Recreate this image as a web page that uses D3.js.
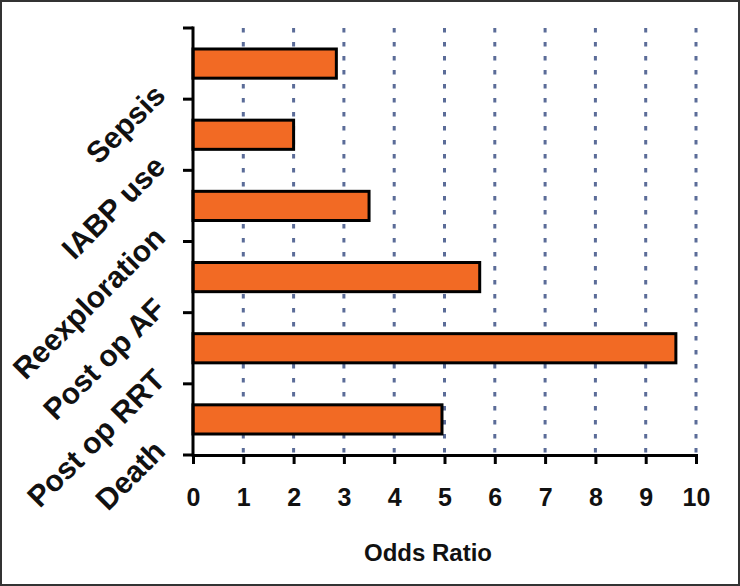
<!DOCTYPE html>
<html>
<head>
<meta charset="utf-8">
<script src="https://cdn.jsdelivr.net/npm/d3@7"></script>
<style>
  body { margin: 0; background: #fff; }
  svg { display: block; font-family: "Liberation Sans", Arial, sans-serif; }
</style>
</head>
<body>
<div class="chart"></div>
<script>
const categories = ["Sepsis", "IABP use", "Reexploration", "Post op AF", "Post op RRT", "Death"];
const oddsRatios = [2.85, 2.0, 3.5, 5.7, 9.6, 4.95];
const xTicks = [0, 1, 2, 3, 4, 5, 6, 7, 8, 9, 10];

const data = categories.map((c, i) => ({ name: c, value: oddsRatios[i] }));

const W = 740, H = 586;
const plotLeft = 193, plotRight = 696, plotTop = 28, plotBottom = 455;

const svg = d3
  .select(".chart")
  .append("svg")
  .attr("width", W)
  .attr("height", H);

// frame round the picture
svg
  .append("rect")
  .attr("x", 1)
  .attr("y", 1)
  .attr("width", W - 2)
  .attr("height", H - 2)
  .attr("fill", "#fff")
  .attr("stroke", "#333")
  .attr("stroke-width", 2);

const xScale = d3.scaleLinear().domain([0, 10]).range([plotLeft, plotRight]);

const yScale = d3
  .scaleBand()
  .domain(categories)
  .range([plotTop, plotBottom])
  .paddingInner(0.59)
  .paddingOuter(0.295);

const step = yScale.step();
const bounds = [plotTop].concat(categories.map((c) => yScale(c) + yScale.bandwidth() / 2 + step / 2));

// dotted grid lines
svg
  .selectAll(".grid")
  .data(xTicks.slice(1))
  .enter()
  .append("line")
  .attr("x1", (d) => xScale(d))
  .attr("x2", (d) => xScale(d))
  .attr("y1", plotTop)
  .attr("y2", plotBottom)
  .attr("stroke", "#5b6c98")
  .attr("stroke-width", 3)
  .attr("stroke-dasharray", "4.5,9.5");

// bars
svg
  .selectAll(".bar")
  .data(data)
  .enter()
  .append("rect")
  .attr("x", xScale(0))
  .attr("y", (d) => yScale(d.name))
  .attr("width", (d) => xScale(d.value) - xScale(0))
  .attr("height", yScale.bandwidth())
  .attr("fill", "#f26a24")
  .attr("stroke", "#000")
  .attr("stroke-width", 3);

// x axis
const xAxis = svg
  .append("g")
  .attr("transform", "translate(0," + plotBottom + ")")
  .call(d3.axisBottom(xScale).tickValues(xTicks).tickSizeOuter(0).tickSize(9).tickPadding(24));
xAxis.select(".domain").attr("stroke", "#000").attr("stroke-width", 3);
xAxis.selectAll(".tick line").attr("stroke", "#000").attr("stroke-width", 3);
xAxis
  .selectAll(".tick text")
  .attr("fill", "#111")
  .style("font-size", "25px")
  .style("font-weight", "bold");

// y axis line and ticks at category boundaries
svg
  .append("line")
  .attr("x1", plotLeft)
  .attr("x2", plotLeft)
  .attr("y1", plotTop - 1.5)
  .attr("y2", plotBottom + 1.5)
  .attr("stroke", "#000")
  .attr("stroke-width", 3);

svg
  .selectAll(".ytick")
  .data(bounds)
  .enter()
  .append("line")
  .attr("x1", plotLeft - 10)
  .attr("x2", plotLeft)
  .attr("y1", (d) => d)
  .attr("y2", (d) => d)
  .attr("stroke", "#000")
  .attr("stroke-width", 3);

// rotated category labels
svg
  .selectAll(".ylabel")
  .data(categories)
  .enter()
  .append("text")
  .attr("transform", (d) => "translate(167," + (yScale(d) + yScale.bandwidth() / 2 + step / 2 - 2) + ") rotate(-45)")
  .attr("text-anchor", "end")
  .attr("fill", "#111")
  .style("font-size", "30px")
  .style("font-weight", "bold")
  .text((d) => d);

svg
  .append("text")
  .attr("x", 428)
  .attr("y", 561)
  .attr("text-anchor", "middle")
  .attr("fill", "#111")
  .style("font-size", "24px")
  .style("font-weight", "bold")
  .text("Odds Ratio");
</script>
</body>
</html>
